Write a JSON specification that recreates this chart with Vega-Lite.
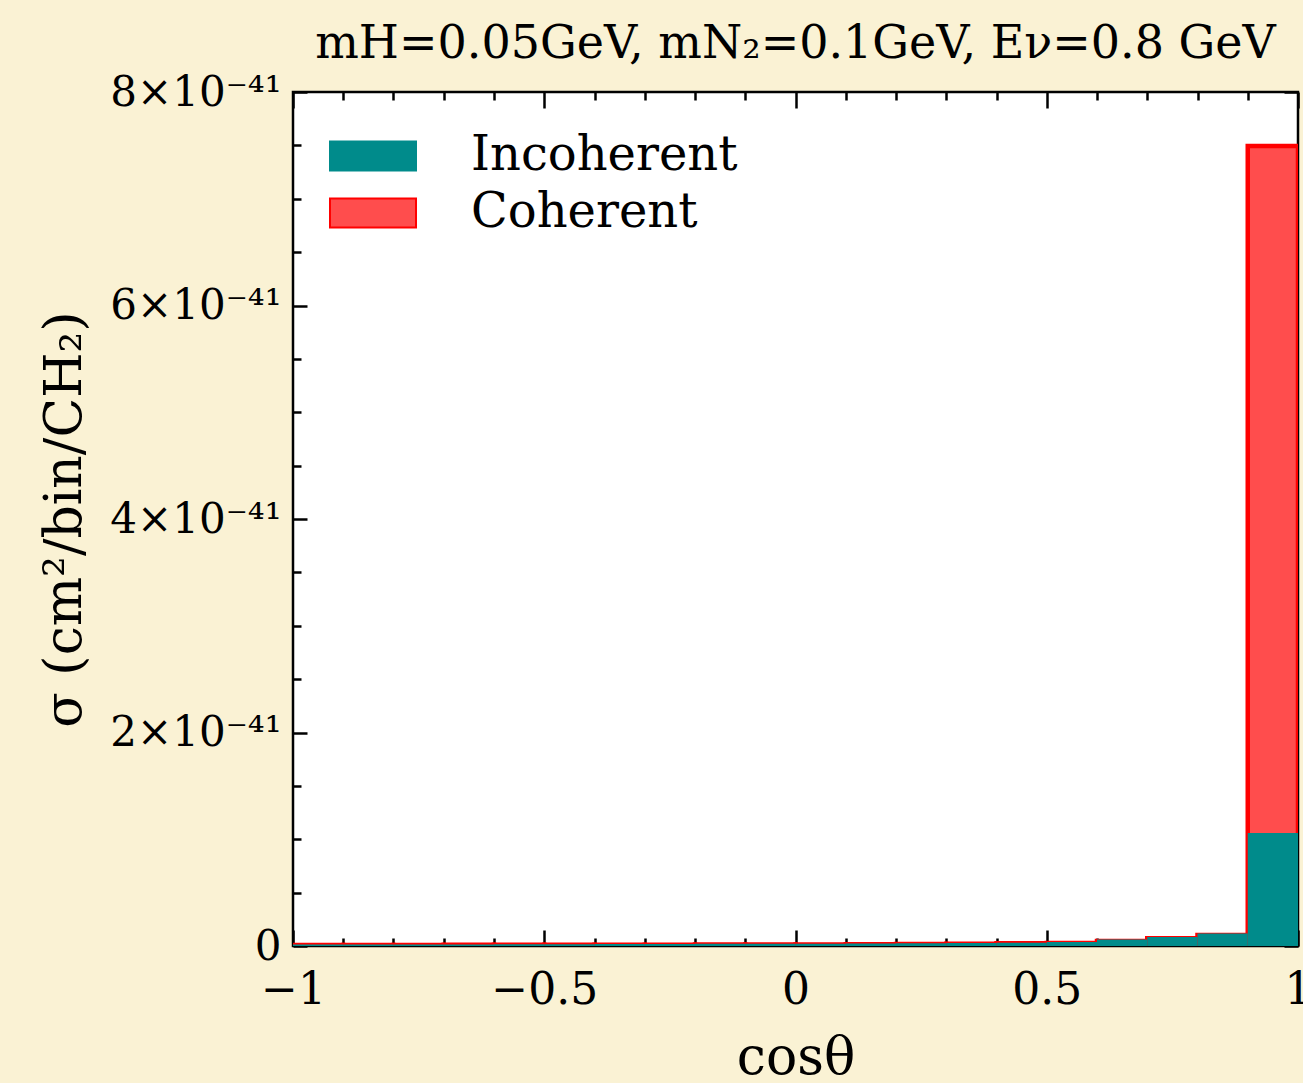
{
  "$schema": "https://vega.github.io/schema/vega-lite/v6.json",
  "width": 1005,
  "height": 854,
  "autosize": "none",
  "padding": {"left": 293, "top": 92, "right": 5, "bottom": 137},
  "background": "#faf2d4",
  "title": {"text": "mH=0.05GeV, mN₂=0.1GeV, Eν=0.8 GeV", "font": "DejaVu Serif", "fontSize": 46, "fontWeight": "normal", "color": "black", "anchor": "middle", "baseline": "alphabetic", "offset": -33},
  "config": {
    "view": {"fill": "white", "stroke": "black", "strokeWidth": 2.5},
    "legend": {"orient": "none", "legendX": 56, "legendY": 40, "title": null, "symbolType": "M-2.15,-0.725H2.15V0.725H-2.15Z", "symbolSize": 1600, "symbolStrokeWidth": 2, "symbolOpacity": 1, "labelFont": "DejaVu Serif", "labelFontSize": 48, "labelColor": "black", "labelOffset": 74, "rowPadding": 9, "labelLimit": 600}
  },
  "data": {"values": [
    {"lo": -1.0, "hi": -0.9, "type": "Incoherent", "sigma": 0.014e-41},
    {"lo": -0.9, "hi": -0.8, "type": "Incoherent", "sigma": 0.014e-41},
    {"lo": -0.8, "hi": -0.7, "type": "Incoherent", "sigma": 0.015e-41},
    {"lo": -0.7, "hi": -0.6, "type": "Incoherent", "sigma": 0.015e-41},
    {"lo": -0.6, "hi": -0.5, "type": "Incoherent", "sigma": 0.016e-41},
    {"lo": -0.5, "hi": -0.4, "type": "Incoherent", "sigma": 0.017e-41},
    {"lo": -0.4, "hi": -0.3, "type": "Incoherent", "sigma": 0.018e-41},
    {"lo": -0.3, "hi": -0.2, "type": "Incoherent", "sigma": 0.019e-41},
    {"lo": -0.2, "hi": -0.1, "type": "Incoherent", "sigma": 0.020e-41},
    {"lo": -0.1, "hi": 0.0, "type": "Incoherent", "sigma": 0.021e-41},
    {"lo": 0.0, "hi": 0.1, "type": "Incoherent", "sigma": 0.022e-41},
    {"lo": 0.1, "hi": 0.2, "type": "Incoherent", "sigma": 0.024e-41},
    {"lo": 0.2, "hi": 0.3, "type": "Incoherent", "sigma": 0.025e-41},
    {"lo": 0.3, "hi": 0.4, "type": "Incoherent", "sigma": 0.027e-41},
    {"lo": 0.4, "hi": 0.5, "type": "Incoherent", "sigma": 0.030e-41},
    {"lo": 0.5, "hi": 0.6, "type": "Incoherent", "sigma": 0.037e-41},
    {"lo": 0.6, "hi": 0.7, "type": "Incoherent", "sigma": 0.060e-41},
    {"lo": 0.7, "hi": 0.8, "type": "Incoherent", "sigma": 0.084e-41},
    {"lo": 0.8, "hi": 0.9, "type": "Incoherent", "sigma": 0.116e-41},
    {"lo": 0.9, "hi": 1.0, "type": "Incoherent", "sigma": 1.059e-41},
    {"lo": -1.0, "hi": -0.9, "type": "Coherent", "sigma": 0.010e-41},
    {"lo": -0.9, "hi": -0.8, "type": "Coherent", "sigma": 0.010e-41},
    {"lo": -0.8, "hi": -0.7, "type": "Coherent", "sigma": 0.010e-41},
    {"lo": -0.7, "hi": -0.6, "type": "Coherent", "sigma": 0.011e-41},
    {"lo": -0.6, "hi": -0.5, "type": "Coherent", "sigma": 0.011e-41},
    {"lo": -0.5, "hi": -0.4, "type": "Coherent", "sigma": 0.011e-41},
    {"lo": -0.4, "hi": -0.3, "type": "Coherent", "sigma": 0.012e-41},
    {"lo": -0.3, "hi": -0.2, "type": "Coherent", "sigma": 0.012e-41},
    {"lo": -0.2, "hi": -0.1, "type": "Coherent", "sigma": 0.013e-41},
    {"lo": -0.1, "hi": 0.0, "type": "Coherent", "sigma": 0.013e-41},
    {"lo": 0.0, "hi": 0.1, "type": "Coherent", "sigma": 0.014e-41},
    {"lo": 0.1, "hi": 0.2, "type": "Coherent", "sigma": 0.016e-41},
    {"lo": 0.2, "hi": 0.3, "type": "Coherent", "sigma": 0.018e-41},
    {"lo": 0.3, "hi": 0.4, "type": "Coherent", "sigma": 0.022e-41},
    {"lo": 0.4, "hi": 0.5, "type": "Coherent", "sigma": 0.026e-41},
    {"lo": 0.5, "hi": 0.6, "type": "Coherent", "sigma": 0.028e-41},
    {"lo": 0.6, "hi": 0.7, "type": "Coherent", "sigma": 0.046e-41},
    {"lo": 0.7, "hi": 0.8, "type": "Coherent", "sigma": 0.072e-41},
    {"lo": 0.8, "hi": 0.9, "type": "Coherent", "sigma": 0.104e-41},
    {"lo": 0.9, "hi": 1.0, "type": "Coherent", "sigma": 7.495e-41}
  ]},
  "layer": [
    {
      "transform": [{"filter": "datum.type == 'Coherent'"}],
      "mark": {"type": "rect", "clip": true, "strokeWidth": 4.5, "opacity": 1},
      "encoding": {
        "x": {"field": "lo", "type": "quantitative", "scale": {"domain": [-1, 1], "nice": false, "zero": false},
          "axis": {"orient": "bottom", "values": [-1, -0.5, 0, 0.5, 1], "tickSize": -16, "tickWidth": 2.5, "tickColor": "black", "domain": false, "grid": false, "labelFlush": false, "labelOverlap": false, "labelBound": false, "labelFont": "DejaVu Serif", "labelFontSize": 44, "labelColor": "black", "labelPadding": 38, "labelExpr": "(datum.value < 0 ? '−' : '') + format(abs(datum.value), '')", "title": "cosθ", "titleFont": "DejaVu Serif", "titleFontSize": 52, "titleFontWeight": "normal", "titleColor": "black", "titlePadding": 20}},
        "x2": {"field": "hi"},
        "y": {"field": "sigma", "type": "quantitative", "scale": {"domain": [0, 8e-41], "nice": false},
          "axis": {"orient": "left", "values": [0, 2e-41, 4e-41, 6e-41, 8e-41], "tickSize": -14, "tickWidth": 2.5, "tickColor": "black", "domain": false, "grid": false, "labelFlush": false, "labelOverlap": false, "labelBound": false, "labelFont": "DejaVu Serif", "labelFontSize": 42, "labelColor": "black", "labelPadding": 26, "labelExpr": "datum.value == 0 ? '0' : round(datum.value * 1e41) + '×10⁻⁴¹'", "title": "σ (cm²/bin/CH₂)", "titleFont": "DejaVu Serif", "titleFontSize": 52, "titleFontWeight": "normal", "titleColor": "black", "titlePadding": 18}},
        "y2": {"datum": 0},
        "fill": {"field": "type", "type": "nominal", "scale": {"domain": ["Incoherent", "Coherent"], "range": ["#008b8b", "#ff4d4d"]}},
        "stroke": {"field": "type", "type": "nominal", "scale": {"domain": ["Incoherent", "Coherent"], "range": ["#008b8b", "#ff0000"]}}
      }
    },
    {
      "transform": [{"filter": "datum.type == 'Incoherent'"}],
      "mark": {"type": "rect", "clip": true, "strokeWidth": 0, "opacity": 1},
      "encoding": {
        "x": {"field": "lo", "type": "quantitative",
          "axis": {"orient": "bottom", "values": [-0.9, -0.8, -0.7, -0.6, -0.4, -0.3, -0.2, -0.1, 0.1, 0.2, 0.3, 0.4, 0.6, 0.7, 0.8, 0.9], "tickSize": -8, "tickWidth": 2.5, "tickColor": "black", "domain": false, "grid": false, "labels": false, "title": null}},
        "x2": {"field": "hi"},
        "y": {"field": "sigma", "type": "quantitative",
          "axis": {"orient": "left", "values": [1e-41, 3e-41, 5e-41, 7e-41, 0.5e-41, 1.5e-41, 2.5e-41, 3.5e-41, 4.5e-41, 5.5e-41, 6.5e-41, 7.5e-41], "tickSize": -8, "tickWidth": 2.5, "tickColor": "black", "domain": false, "grid": false, "labels": false, "title": null}},
        "y2": {"datum": 0},
        "fill": {"field": "type", "type": "nominal"},
        "stroke": {"field": "type", "type": "nominal"}
      }
    },
    {
      "transform": [{"filter": "datum.type == 'Incoherent'"}],
      "mark": {"type": "rect", "clip": true, "opacity": 0},
      "encoding": {
        "x": {"field": "lo", "type": "quantitative",
          "axis": {"orient": "top", "values": [-1, -0.5, 0, 0.5, 1], "tickSize": -16, "tickWidth": 2.5, "tickColor": "black", "domain": false, "grid": false, "labels": false, "title": null}},
        "x2": {"field": "hi"},
        "y": {"field": "sigma", "type": "quantitative",
          "axis": {"orient": "right", "values": [0, 2e-41, 4e-41, 6e-41, 8e-41], "tickSize": -14, "tickWidth": 2.5, "tickColor": "black", "domain": false, "grid": false, "labels": false, "title": null}},
        "y2": {"datum": 0}
      }
    },
    {
      "transform": [{"filter": "datum.type == 'Incoherent'"}],
      "mark": {"type": "rect", "clip": true, "opacity": 0},
      "encoding": {
        "x": {"field": "lo", "type": "quantitative",
          "axis": {"orient": "top", "values": [-0.9, -0.8, -0.7, -0.6, -0.4, -0.3, -0.2, -0.1, 0.1, 0.2, 0.3, 0.4, 0.6, 0.7, 0.8, 0.9], "tickSize": -8, "tickWidth": 2.5, "tickColor": "black", "domain": false, "grid": false, "labels": false, "title": null}},
        "x2": {"field": "hi"},
        "y": {"field": "sigma", "type": "quantitative",
          "axis": {"orient": "right", "values": [1e-41, 3e-41, 5e-41, 7e-41, 0.5e-41, 1.5e-41, 2.5e-41, 3.5e-41, 4.5e-41, 5.5e-41, 6.5e-41, 7.5e-41], "tickSize": -8, "tickWidth": 2.5, "tickColor": "black", "domain": false, "grid": false, "labels": false, "title": null}},
        "y2": {"datum": 0}
      }
    }
  ],
  "resolve": {"axis": {"x": "independent", "y": "independent"}}
}
